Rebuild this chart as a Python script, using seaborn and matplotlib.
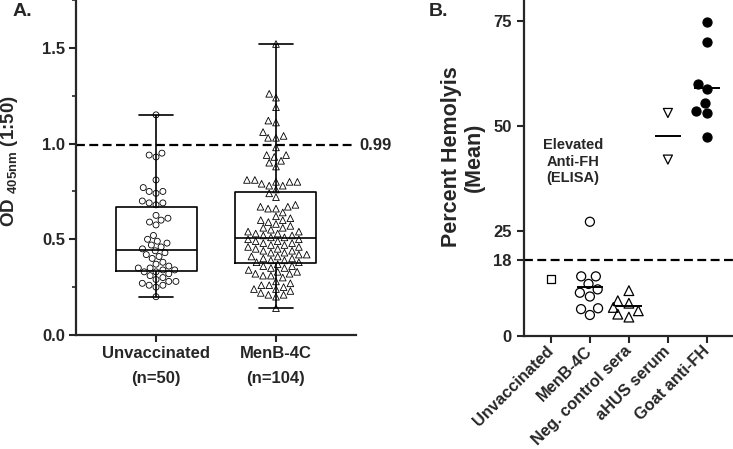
# recreates the two panel figure: OD box plot (A) and percent hemolysis scatter (B)
import pandas as pd
import seaborn as sns
import numpy as np
import matplotlib.pyplot as plt
from matplotlib.ticker import MultipleLocator

# panel A data, OD 405nm values
groups_a = ['Unvaccinated', 'MenB-4C']
labels_a = ['Unvaccinated\n(n=50)', 'MenB-4C\n(n=104)']
od_unvacc = [0.20, 0.25, 0.26, 0.26, 0.27, 0.28, 0.28, 0.29, 0.30, 0.31,
             0.32, 0.33, 0.33, 0.34, 0.34, 0.35, 0.35, 0.36, 0.37, 0.38,
             0.40, 0.41, 0.42, 0.43, 0.44, 0.45, 0.46, 0.47, 0.48, 0.49,
             0.50, 0.52, 0.575, 0.59, 0.60, 0.61, 0.625, 0.68, 0.69, 0.69,
             0.70, 0.74, 0.75, 0.75, 0.77, 0.81, 0.93, 0.94, 0.95, 1.15]
od_menb = [0.14, 0.20, 0.21, 0.21, 0.22, 0.23, 0.24, 0.24, 0.25, 0.26, 0.26, 0.27, 0.28,
           0.30, 0.31, 0.31, 0.32, 0.32, 0.33, 0.33, 0.34, 0.35, 0.35, 0.36, 0.36, 0.37,
           0.38, 0.38, 0.39, 0.39, 0.40, 0.40, 0.41, 0.41, 0.42, 0.42, 0.43, 0.43, 0.44,
           0.44, 0.45, 0.45, 0.46, 0.46, 0.47, 0.47, 0.48, 0.48, 0.49, 0.49, 0.50, 0.50,
           0.51, 0.51, 0.52, 0.52, 0.53, 0.53, 0.54, 0.54, 0.55, 0.56, 0.56, 0.57, 0.58,
           0.59, 0.60, 0.60, 0.61, 0.62, 0.64, 0.66, 0.66, 0.67, 0.67, 0.68, 0.72, 0.74,
           0.76, 0.78, 0.78, 0.79, 0.80, 0.80, 0.80, 0.81, 0.81, 0.88, 0.90, 0.91, 0.93,
           0.94, 0.94, 0.98, 1.03, 1.03, 1.04, 1.06, 1.11, 1.12, 1.19, 1.24, 1.26, 1.52]
cutoff_a = 0.99

# panel B data, percent hemolysis
groups_b = ['Unvaccinated', 'MenB-4C', 'Neg. control sera', 'aHUS serum', 'Goat anti-FH']
hem_unvacc = [13.6]
hem_menb = [27.2, 14.2, 14.2, 12.4, 11.1, 10.3, 9.4, 6.6, 6.4, 5.0]
hem_neg = [10.8, 8.4, 7.8, 6.8, 6.0, 5.2, 4.5]
hem_ahus = [53.1, 42.0]
hem_goat = [74.8, 69.9, 60.1, 58.7, 55.4, 53.5, 53.0, 47.4]
cutoff_b = 18

sns.set_style('ticks')
plt.rcParams['font.family'] = ['Liberation Sans', 'DejaVu Sans']
plt.rcParams['font.weight'] = 'bold'
plt.rcParams['axes.labelweight'] = 'bold'
plt.rcParams['mathtext.fontset'] = 'custom'
plt.rcParams['mathtext.rm'] = 'Liberation Sans:bold'
plt.rcParams['mathtext.default'] = 'rm'

fig = plt.figure(figsize=(7.33, 4.49), dpi=100)
axA = fig.add_axes([76/733, 1-335/449, 280/733, 335/449])
axB = fig.add_axes([524/733, 1-336/449, 209/733, 336/449])

# ---- panel A ----
dfA = pd.DataFrame({'group': ['Unvaccinated']*len(od_unvacc) + ['MenB-4C']*len(od_menb),
                    'od': od_unvacc + od_menb})
sns.boxplot(data=dfA, x='group', y='od', order=groups_a, whis=(0, 100), width=0.675,
            fill=False, color='black', linewidth=1.2, showfliers=False,
            capwidths=0.28, ax=axA)

for g, vals, m, s in [('Unvaccinated', od_unvacc, 'o', 4.3), ('MenB-4C', od_menb, '^', 4.8)]:
    n_before = len(axA.collections)
    sns.swarmplot(x=[g]*len(vals), y=vals, order=groups_a, marker=m, size=s,
                  color='black', edgecolor='black', linewidth=0.6, ax=axA)
    # hollow markers: swarmplot may add one collection per category
    for coll in axA.collections[n_before:]:
        coll.set_facecolor('none')

axA.axhline(cutoff_a, color='black', ls=(0, (4, 2)), lw=1.6)
axA.text(1.012, cutoff_a, '0.99', transform=axA.get_yaxis_transform(), va='center',
         ha='left', fontsize=12, clip_on=False)

axA.set_xlim(-0.667, 1.667)
axA.set_ylim(0, 1.75)
axA.set_yticks([0, 0.5, 1.0, 1.5])
axA.set_yticklabels(['0.0', '0.5', '1.0', '1.5'], fontsize=12)
axA.yaxis.set_minor_locator(MultipleLocator(0.25))
axA.set_xticks([0, 1])
axA.set_xticklabels(labels_a, fontsize=12, linespacing=1.8)
axA.set_xlabel('')
axA.set_ylabel(r'OD $_{405nm}$ (1:50)', fontsize=13.5)
axA.yaxis.set_label_coords(-0.2, 0.52)
axA.tick_params(axis='both', which='major', direction='out', length=5, width=1.5, pad=3)
axA.tick_params(axis='y', which='minor', direction='out', length=3, width=1.2)
sns.despine(ax=axA)
for sp in ['left', 'bottom']:
    axA.spines[sp].set_linewidth(1.6)

# ---- panel B ----
b_sets = [('Unvaccinated', hem_unvacc, 's', 6, 'none'),
          ('MenB-4C', hem_menb, 'o', 6.5, 'none'),
          ('Neg. control sera', hem_neg, '^', 7, 'none'),
          ('aHUS serum', hem_ahus, 'v', 6.5, 'none'),
          ('Goat anti-FH', hem_goat, 'o', 6.5, 'black')]
for g, vals, m, s, fc in b_sets:
    n_before = len(axB.collections)
    sns.swarmplot(x=[g]*len(vals), y=vals, order=groups_b, marker=m, size=s,
                  color='black', edgecolor='black', linewidth=0.9, ax=axB)
    for coll in axB.collections[n_before:]:
        coll.set_facecolor(fc)

# mean lines for the groups with several sera
mean_groups = []
mean_vals = []
for g, vals, m, s, fc in b_sets[1:]:
    mean_groups += [g]*len(vals)
    mean_vals += vals
sns.pointplot(x=mean_groups, y=mean_vals, order=groups_b, estimator='mean', errorbar=None,
              marker='_', linestyle='none', color='black', markersize=19,
              markeredgewidth=1.4, ax=axB)

axB.axhline(cutoff_b, color='black', ls=(0, (4, 2)), lw=1.6)
axB.text(0.56, 41.5, 'Elevated\nAnti-FH\n(ELISA)', ha='center', va='center',
         fontsize=10.5, linespacing=1.25)

axB.set_xlim(-0.69, 4.67)
axB.set_ylim(0, 80)
axB.set_yticks([0, 18, 25, 50, 75])
axB.set_yticklabels(['0', '18', '25', '50', '75'], fontsize=12)
axB.set_xticks(range(len(groups_b)))
axB.set_xticklabels(groups_b, fontsize=11.8, rotation=45, ha='right', va='center',
                    rotation_mode='anchor')
axB.set_xlabel('')
axB.set_ylabel('Percent Hemolyis\n(Mean)', fontsize=15.5, linespacing=1.1)
axB.yaxis.set_label_coords(-0.187, 0.533)
axB.tick_params(axis='both', which='major', direction='out', length=5, width=1.5, pad=4)
sns.despine(ax=axB)
for sp in ['left', 'bottom']:
    axB.spines[sp].set_linewidth(1.6)

fig.text(13/733, 1-11/449, 'A.', fontsize=14, va='center', ha='left')
fig.text(429/733, 1-11/449, 'B.', fontsize=14, va='center', ha='left')

fig.savefig('out.png', dpi=100)
